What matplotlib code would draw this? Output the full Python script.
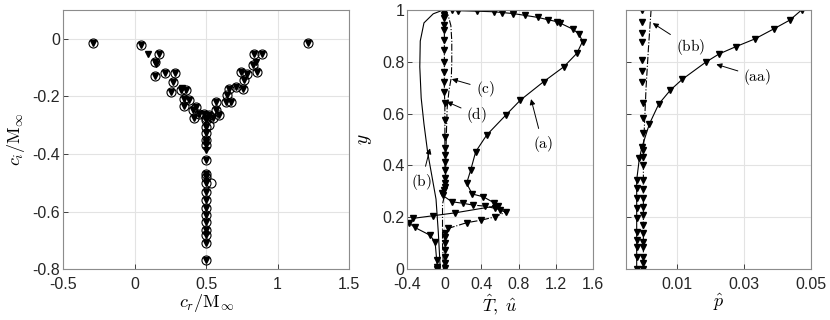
import numpy as np
import matplotlib
matplotlib.use('Agg')
import matplotlib.pyplot as plt

plt.rcParams['font.family'] = ['Liberation Sans', 'DejaVu Sans']
plt.rcParams['mathtext.fontset'] = 'cm'
plt.rcParams['axes.unicode_minus'] = False

# ---- spectrum (left panel) ----
common_cr = [-0.29, 1.21, 0.047, 0.174, 0.14, 0.14, 0.21, 0.28, 0.267, 0.256, 0.326, 0.36, 0.349,
             0.384, 0.349, 0.43, 0.407, 0.453, 0.419, 0.488, 0.5, 0.523, 0.547, 0.57, 0.593, 0.57,
             0.64, 0.674, 0.65, 0.663, 0.709, 0.756, 0.744, 0.79, 0.767, 0.86, 0.826, 0.837, 0.895,
             0.5, 0.5, 0.5, 0.5, 0.5, 0.5, 0.5, 0.5, 0.5, 0.5, 0.5, 0.5, 0.5, 0.5, 0.5, 0.5, 0.5, 0.5]
common_ci = [-0.014, -0.015, -0.023, -0.052, -0.081, -0.13, -0.119, -0.119, -0.15, -0.185, -0.179,
             -0.179, -0.208, -0.214, -0.234, -0.237, -0.248, -0.26, -0.274, -0.26, -0.277, -0.266,
             -0.277, -0.248, -0.266, -0.22, -0.22, -0.22, -0.196, -0.173, -0.167, -0.173, -0.115,
             -0.124, -0.144, -0.115, -0.092, -0.052, -0.052,
             -0.283, -0.306, -0.329, -0.352, -0.37, -0.421, -0.468, -0.479, -0.502, -0.531, -0.56,
             -0.589, -0.612, -0.635, -0.664, -0.681, -0.71, -0.768]
circ_only_cr = [0.535, 0.52]
circ_only_ci = [-0.5, -0.30]
tri_only_cr = [0.093, 0.15, 0.85, 0.33, 0.5, 0.5]
tri_only_ci = [-0.052, -0.089, -0.081, -0.17, -0.36, -0.385]

# ---- eigenfunctions (middle panel) ----
a_x = [0.0, 0.08, 0.15, 0.35, 0.53, 0.62, 0.74, 0.87, 1.01, 1.12, 1.21, 1.25, 1.39, 1.455, 1.49,
       1.43, 1.29, 1.07, 0.82, 0.665, 0.456, 0.338, 0.284, 0.24, 0.3, 0.42, 0.53, 0.58,
       0.114, -0.12, -0.335, -0.38, -0.32, -0.156, -0.1, -0.083, -0.076, -0.08]
a_y = [1.0, 0.998, 0.997, 0.995, 0.993, 0.99, 0.986, 0.979, 0.971, 0.962, 0.955, 0.949, 0.925, 0.906,
       0.878, 0.833, 0.781, 0.723, 0.652, 0.595, 0.517, 0.453, 0.382, 0.331, 0.29, 0.279, 0.257,
       0.245, 0.217, 0.206, 0.196, 0.178, 0.161, 0.131, 0.105, 0.035, 0.009, 0.0]
b_x = [-0.01, -0.12, -0.22, -0.26, -0.265, -0.25, -0.22, -0.18, -0.13, -0.09, -0.065, -0.047, -0.045]
b_y = [1.0, 0.985, 0.95, 0.88, 0.78, 0.66, 0.56, 0.45, 0.35, 0.27, 0.14, 0.02, 0.0]
c_x = [0.0, 0.04, 0.07, 0.08, 0.08, 0.075, 0.05, 0.03, 0.02, 0.015, 0.01, -0.02, -0.02, -0.01]
c_y = [1.0, 0.98, 0.94, 0.88, 0.8, 0.74, 0.69, 0.62, 0.5, 0.4, 0.3, 0.25, 0.1, 0.0]
d_x = [0.0, 0.0, 0.0, 0.0, 0.0, 0.0, 0.0, 0.0, 0.0, 0.0, 0.0, 0.0, 0.005, 0.006, 0.006, 0.006, 0.006,
       0.006, 0.006, 0.006, 0.006, 0.005, 0.0, -0.03, -0.02, 0.08, 0.2, 0.31, 0.44, 0.55, 0.6, 0.66,
       0.55, 0.4, 0.24, 0.04, 0.01, 0.007, 0.007, 0.007, 0.007, 0.007, 0.007]
d_y = [1.0, 0.993, 0.981, 0.968, 0.942, 0.923, 0.884, 0.846, 0.80, 0.762, 0.723, 0.685, 0.64, 0.575,
       0.511, 0.466, 0.44, 0.414, 0.382, 0.35, 0.331, 0.318, 0.305, 0.295, 0.285, 0.26, 0.254, 0.247,
       0.243, 0.234, 0.228, 0.22, 0.202, 0.189, 0.179, 0.157, 0.14, 0.125, 0.099, 0.073, 0.047,
       0.022, 0.003]

# ---- pressure (right panel) ----
aa_x = [0.0473, 0.0438, 0.039, 0.0333, 0.0276, 0.0226, 0.0186, 0.0116, 0.0081, 0.0046, 0.0018,
        -0.0004, -0.0012, -0.002, -0.002, -0.002, -0.002, -0.002, -0.002, -0.002, -0.002, -0.002, -0.002]
aa_y = [1.0, 0.961, 0.927, 0.888, 0.858, 0.83, 0.798, 0.732, 0.691, 0.637, 0.56, 0.472, 0.427, 0.344,
        0.312, 0.273, 0.234, 0.196, 0.144, 0.112, 0.086, 0.047, 0.0]
bb_x = [0.0023, 0.0015, 0.0008, 0.0003, 0.0, 0.0, 0.0]
bb_y = [1.0, 0.85, 0.7, 0.55, 0.45, 0.2, 0.0]
bbm_x = [-0.0004, -0.0004, -0.0004, -0.0004, -0.0003, -0.0003, -0.0003, -0.0002, -0.0001, 0.0, 0.0,
         0.0, 0.0, 0.0, 0.0, 0.0, 0.0, 0.0, 0.0, 0.0, 0.0, 0.0, 0.0, 0.0, 0.0]
bbm_y = [1.0, 0.955, 0.911, 0.876, 0.807, 0.765, 0.723, 0.64, 0.582, 0.524, 0.46, 0.434, 0.40, 0.344,
         0.31, 0.275, 0.24, 0.208, 0.17, 0.14, 0.105, 0.085, 0.047, 0.022, 0.0]

axcol = '#262626'
gridcol = '#e3e3e3'
fs = 11.5


def style(ax):
    ax.grid(True, color=gridcol, linewidth=0.8)
    ax.set_axisbelow(True)
    ax.tick_params(direction='in', length=3.5, width=0.6, colors=axcol, labelsize=fs)
    ax.tick_params(axis='x', pad=6)
    ax.tick_params(axis='y', pad=2)
    for s in ax.spines.values():
        s.set_color('#8c8c8c')
        s.set_linewidth(0.8)


fig = plt.figure(figsize=(8.3, 3.2), dpi=100)

# left
ax1 = fig.add_axes([0.0759, 0.159, 0.3446, 0.81])
style(ax1)
ax1.plot(common_cr + circ_only_cr, common_ci + circ_only_ci, 'o', mfc='none', mec='k', ms=6.5, mew=0.8)
ax1.plot(common_cr + tri_only_cr, common_ci + tri_only_ci, 'v', color='k', ms=4.5)
ax1.set_xlim(-0.5, 1.5)
ax1.set_ylim(-0.8, 0.1)
ax1.set_xticks([-0.5, 0, 0.5, 1, 1.5])
ax1.set_xticklabels(['-0.5', '0', '0.5', '1', '1.5'])
ax1.set_yticks([-0.8, -0.6, -0.4, -0.2, 0])
ax1.set_yticklabels(['-0.8', '-0.6', '-0.4', '-0.2', '0'])
ax1.set_xlabel(r'$c_r/\mathrm{M}_\infty$', fontsize=13, labelpad=0)
ax1.set_ylabel(r'$c_i/\mathrm{M}_\infty$', fontsize=13, labelpad=4)

# middle
ax2 = fig.add_axes([0.4907, 0.159, 0.2234, 0.81])
style(ax2)
ax2.plot(a_x, a_y, '-v', color='k', lw=0.8, ms=4)
ax2.plot(b_x, b_y, '-', color='k', lw=0.8)
ax2.plot(c_x, c_y, '-.', color='k', lw=0.8)
ax2.plot(d_x, d_y, '-.v', color='k', lw=0.8, ms=4)
ax2.set_xlim(-0.4, 1.6)
ax2.set_ylim(0, 1)
ax2.set_xticks([-0.4, 0, 0.4, 0.8, 1.2, 1.6])
ax2.set_xticklabels(['-0.4', '0', '0.4', '0.8', '1.2', '1.6'])
ax2.set_yticks([0, 0.2, 0.4, 0.6, 0.8, 1])
ax2.set_yticklabels(['0', '0.2', '0.4', '0.6', '0.8', '1'])
ax2.set_xlabel(r'$\hat{T},\ \hat{u}$', fontsize=13, labelpad=0)
ax2.set_ylabel(r'$y$', fontsize=14, labelpad=6)

arrow = dict(arrowstyle='-|>', color='k', lw=0.7, mutation_scale=8, shrinkA=2, shrinkB=0)
ax2.annotate(r'$\mathrm{(c)}$', xy=(0.08, 0.733), xytext=(0.44, 0.696), fontsize=11,
             ha='center', va='center', arrowprops=arrow)
ax2.annotate(r'$\mathrm{(d)}$', xy=(0.025, 0.646), xytext=(0.35, 0.595), fontsize=11,
             ha='center', va='center', arrowprops=arrow)
ax2.annotate(r'$\mathrm{(a)}$', xy=(0.935, 0.656), xytext=(1.06, 0.483), fontsize=11,
             ha='center', va='center', arrowprops=arrow)
ax2.annotate(r'$\mathrm{(b)}$', xy=(-0.155, 0.466), xytext=(-0.245, 0.337), fontsize=11,
             ha='center', va='center', arrowprops=arrow)

# right
ax3 = fig.add_axes([0.7542, 0.159, 0.2225, 0.81])
style(ax3)
ax3.plot(aa_x, aa_y, '-v', color='k', lw=0.8, ms=4)
ax3.plot(bb_x, bb_y, '-.', color='k', lw=0.8)
ax3.plot(bbm_x, bbm_y, 'v', color='k', ms=4)
ax3.set_xlim(-0.0052, 0.05)
ax3.set_ylim(0, 1)
ax3.set_xticks([0.01, 0.03, 0.05])
ax3.set_xticklabels(['0.01', '0.03', '0.05'])
ax3.set_yticks([0, 0.2, 0.4, 0.6, 0.8, 1])
ax3.set_yticklabels([])
ax3.set_xlabel(r'$\hat{p}$', fontsize=13, labelpad=0)
ax3.annotate(r'$\mathrm{(bb)}$', xy=(0.0028, 0.949), xytext=(0.014, 0.856), fontsize=11,
             ha='center', va='center', arrowprops=arrow)
ax3.annotate(r'$\mathrm{(aa)}$', xy=(0.0218, 0.79), xytext=(0.034, 0.742), fontsize=11,
             ha='center', va='center', arrowprops=arrow)

fig.savefig('out.png', dpi=100)
